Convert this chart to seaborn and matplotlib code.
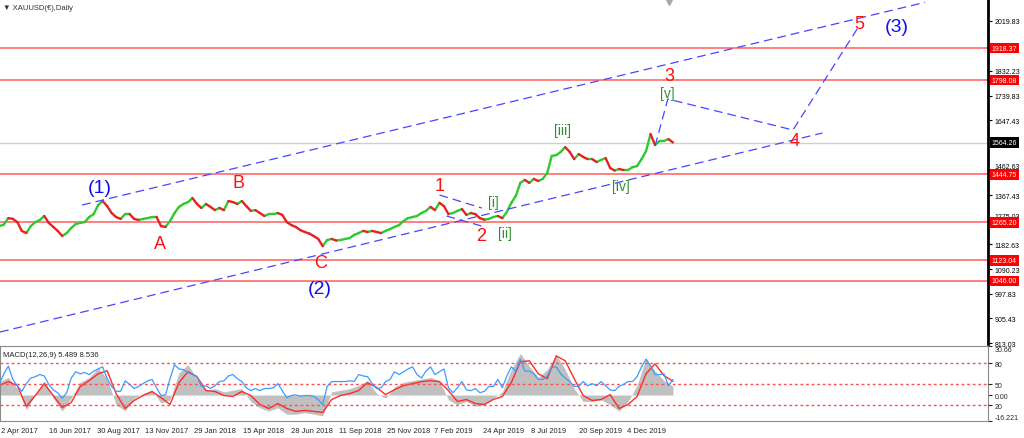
import pandas as pd
import matplotlib.pyplot as plt
import matplotlib.dates as mdates
import matplotlib.transforms as mtransforms
import seaborn as sns

# --- DATOS ---
# cierres semanales aproximados de XAUUSD(€) desde 2017-03-31
price_start = '2017-03-31'
price_close = [
    1251, 1257, 1281, 1278, 1266, 1233, 1225, 1251, 1266, 1274,
    1289, 1263, 1248, 1233, 1214, 1225, 1244, 1259, 1263, 1266,
    1285, 1296, 1330, 1345, 1326, 1300, 1285, 1278, 1296, 1296,
    1278, 1274, 1278, 1281, 1285, 1285, 1251, 1248, 1270, 1300,
    1323, 1334, 1341, 1356, 1334, 1319, 1334, 1323, 1311, 1319,
    1311, 1345, 1341, 1334, 1345, 1326, 1308, 1311, 1300, 1289,
    1296, 1296, 1300, 1293, 1266, 1255, 1248, 1236, 1229, 1223,
    1214, 1203, 1176, 1199, 1203, 1197, 1199, 1203, 1206, 1218,
    1225, 1233, 1229, 1233, 1229, 1225, 1233, 1240, 1248, 1255,
    1270, 1281, 1285, 1289, 1300, 1308, 1323, 1311, 1338, 1326,
    1296, 1300, 1308, 1315, 1293, 1300, 1296, 1281, 1275, 1278,
    1285, 1289, 1281, 1304, 1338, 1364, 1413, 1424, 1413, 1428,
    1420, 1428, 1450, 1514, 1517, 1529, 1547, 1529, 1502, 1521,
    1510, 1502, 1502, 1491, 1499, 1506, 1469, 1459, 1465, 1461,
    1461, 1472, 1476, 1502, 1532, 1596, 1555, 1570, 1570, 1577,
    1564.26]

# MACD cada dos semanas (histograma gris y senal roja)
macd_start = '2017-03-31'
macd_hist = [
    8.4, 11, 4, -9, 0, 9, -2, -10, -2, 8,
    11, 17, 10, -6, -10, -2, 1, 3, -5, -3,
    14, 19, 10, 3, 4, 2, 3, 4, -4, -8,
    -10, -8, -12, -12, -11, -12, -13, 2, 3, 4,
    6, 9, 1, -2, 5, 8, 9, 10, 11, 9,
    -3, -6, -4, -7, -6, -2, 2, 16, 26, 18,
    11, 16, 25, 16, 4, -4, -4, -3, -6, -10,
    -4, 6, 23, 15, 9, 5.489]
macd_signal = [
    5.9, 8.4, 5.9, -7.1, -0.3, 7.1, -0.3, -7.8, -4.7, 5.3,
    9.0, 13.3, 15.2, 0.9, -8.4, -3.4, -0.3, 2.2, -1.6, -5.9,
    7.8, 14.6, 11.5, 2.8, 2.2, -0.3, -0.9, 2.2, -0.3, -5.9,
    -8.4, -5.3, -8.4, -10.2, -9.6, -10.2, -10.9, -2.8, -0.3, 0.9,
    2.8, 7.8, 4.7, 0.3, 3.4, 5.9, 7.1, 8.4, 9.0, 8.4,
    2.8, -4.0, -2.8, -5.3, -5.9, -2.8, -0.9, 7.8, 20.8, 21.4,
    13.3, 10.2, 24.5, 21.4, 10.2, -0.3, -3.4, -2.8, 0.3, -8.4,
    -5.9, -0.9, 13.3, 19.5, 12.1, 8.536]

# oscilador azul (escala 0-100, niveles 80/50/20), semanal
osc_blue = [
    51, 65, 76, 57, 48, 40, 51, 59, 61, 64,
    62, 50, 42, 38, 30, 38, 59, 68, 65, 67,
    64, 69, 72, 75, 58, 47, 40, 40, 55, 50,
    44, 47, 51, 55, 57, 45, 34, 35, 58, 78,
    72, 71, 67, 64, 61, 47, 48, 44, 48, 54,
    55, 62, 64, 58, 54, 45, 41, 44, 41, 44,
    44, 45, 51, 41, 31, 34, 35, 33, 34, 34,
    33, 28, 21, 47, 54, 54, 54, 54, 55, 54,
    64, 62, 61, 51, 44, 45, 54, 57, 68, 64,
    68, 72, 75, 64, 59, 69, 75, 64, 68, 72,
    45, 38, 45, 54, 42, 41, 44, 38, 40, 47,
    47, 57, 45, 62, 75, 69, 86, 69, 69, 65,
    57, 57, 62, 74, 75, 65, 59, 54, 47, 47,
    54, 48, 51, 48, 54, 48, 42, 41, 47, 50,
    54, 54, 61, 75, 86, 76, 64, 64, 65, 48,
    57]
osc_levels = [80, 50, 20]

red_levels = [1918.37, 1798.08, 1444.75, 1265.20, 1123.04, 1046.00]
last_price = 1564.26
price_ticks = [2019.83, 1832.23, 1739.83, 1647.43, 1462.63, 1367.43,
               1275.03, 1182.63, 1090.23, 997.83, 905.43, 813.03]
date_ticks = ['2017-04-02', '2017-06-16', '2017-08-30', '2017-11-13',
              '2018-01-29', '2018-04-15', '2018-06-28', '2018-09-11',
              '2018-11-25', '2019-02-07', '2019-04-24', '2019-07-08',
              '2019-09-20', '2019-12-04']

# lineas de tendencia y proyeccion (fecha, precio)
upper_channel = [('2017-08-07', 1330.1), ('2021-03-13', 2089.6)]
lower_channel = [('2017-04-01', 854.2), ('2020-10-04', 1599.9)]
wave2_top = [('2019-02-15', 1367.6), ('2019-04-22', 1318.8)]
wave2_bottom = [('2019-02-26', 1288.9), ('2019-04-27', 1247.7)]
projection = [('2020-01-17', 1551.2), ('2020-02-06', 1727.3),
              ('2020-08-19', 1611.1), ('2020-11-29', 1997.1)]

# etiquetas de ondas (texto, fecha, precio, grado)
wave_labels = [
    ('(1)', '2017-09-04', 1397.5, 'mayor'),
    ('(2)', '2018-08-12', 1019.1, 'mayor'),
    ('(3)', '2021-01-27', 1997.1, 'mayor'),
    ('A', '2017-12-06', 1187.7, 'menor'),
    ('B', '2018-04-07', 1416.2, 'menor'),
    ('C', '2018-08-13', 1112.8, 'menor'),
    ('1', '2019-02-15', 1405.0, 'menor'),
    ('2', '2019-04-21', 1217.7, 'menor'),
    ('3', '2020-02-08', 1813.5, 'menor'),
    ('4', '2020-08-21', 1573.6, 'menor'),
    ('5', '2020-11-30', 2008.3, 'menor'),
    ('[i]', '2019-05-10', 1341.3, 'minuto'),
    ('[ii]', '2019-05-28', 1225.2, 'minuto'),
    ('[iii]', '2019-08-25', 1611.1, 'minuto'),
    ('[iv]', '2019-11-25', 1401.3, 'minuto'),
    ('[v]', '2020-02-05', 1749.8, 'minuto'),
]
estilo_grado = {'mayor': ('#1010f0', 14), 'menor': ('#ff1010', 13),
                'minuto': ('#2f8f2f', 10)}

# --- FIGURA ---
sns.set_style('white')
plt.rcParams['font.family'] = ['Liberation Sans', 'DejaVu Sans']

fig = plt.figure(figsize=(10.24, 4.39), dpi=100)
ax = fig.add_axes([0, 94 / 439, 988 / 1024, 345 / 439])
ax2 = fig.add_axes([0, 17 / 439, 988 / 1024, 75 / 439], sharex=ax)

# niveles horizontales
for lv in red_levels:
    ax.axhline(lv, color='#ff6a6a', lw=1.2, zorder=1)
ax.axhline(last_price, color='#cfcfcf', lw=1, zorder=1)

# precio: segmentos verdes (sube) y rojos (baja)
fechas = pd.date_range(price_start, periods=len(price_close), freq='7D')
filas = []
for i in range(len(price_close) - 1):
    d = 'up' if price_close[i + 1] >= price_close[i] else 'down'
    filas.append((fechas[i], price_close[i], i, d))
    filas.append((fechas[i + 1], price_close[i + 1], i, d))
seg = pd.DataFrame(filas, columns=['fecha', 'precio', 'seg', 'dir'])
sns.lineplot(data=seg, x='fecha', y='precio', units='seg', estimator=None,
             hue='dir', palette={'up': '#2fc92f', 'down': '#e52222'},
             legend=False, lw=1.7, ax=ax, zorder=3)


def linea(puntos):
    xs = pd.to_datetime([p[0] for p in puntos])
    ys = [p[1] for p in puntos]
    ax.plot(xs, ys, color='#4646ff', lw=0.9, dashes=(7, 4), zorder=4)


for pts in [upper_channel, lower_channel, wave2_top, wave2_bottom, projection]:
    linea(pts)

for txt, f, p, g in wave_labels:
    c, fs = estilo_grado[g]
    ax.text(pd.Timestamp(f), p, txt, color=c, fontsize=fs, ha='center',
            va='center', zorder=6)

ax.set_xlim(pd.Timestamp('2017-04-01'), pd.Timestamp('2021-06-19'))
ax.set_ylim(809.3, 2101.97)
ax.set_xlabel('')
ax.set_ylabel('')
for s in ['top', 'left', 'bottom']:
    ax.spines[s].set_visible(False)
ax.spines['right'].set_color('black')
ax.spines['right'].set_linewidth(2)
ax.yaxis.tick_right()
ax.set_yticks(price_ticks)
ax.set_yticklabels([f'{v:.2f}' for v in price_ticks])
ax.tick_params(axis='y', length=3, width=0.8, pad=2, labelsize=5, colors='black')
ax.tick_params(axis='x', bottom=False, labelbottom=False)
# las etiquetas que quedan junto a una caja se suben un poco
for lbl in ax.get_yticklabels():
    if lbl.get_text() in ('1462.63', '1275.03'):
        lbl.set_va('bottom')

# etiquetas de precio en cajas
trans = mtransforms.blended_transform_factory(ax.transAxes, ax.transData)
for lv in red_levels:
    ax.text(1.004, lv, f'{lv:.2f}', transform=trans, ha='left', va='center',
            color='white', fontsize=5, clip_on=False, zorder=10,
            bbox=dict(boxstyle='square,pad=0.25', fc='#ff0000', ec='none'))
ax.text(1.004, last_price, f'{last_price:.2f}', transform=trans, ha='left',
        va='center', color='white', fontsize=5, clip_on=False, zorder=10,
        bbox=dict(boxstyle='square,pad=0.25', fc='black', ec='none'))

ax.text(0.003, 0.985, '▼ XAUUSD(€),Daily', transform=ax.transAxes,
        fontsize=5.5, color='#333333', ha='left', va='top')
marca = mtransforms.blended_transform_factory(ax.transData, ax.transAxes)
ax.plot(mdates.date2num(pd.Timestamp('2020-02-07')), 0.995, marker='v', ms=6,
        color='#a8a8a8', transform=marca, clip_on=False)

# --- PANEL MACD ---
fechas_macd = pd.date_range(macd_start, periods=len(macd_hist), freq='14D')
ax2.fill_between(fechas_macd, 0, macd_hist, color='#c0c0c0', lw=0)
sns.lineplot(x=fechas_macd, y=macd_signal, color='#ff2a2a', lw=1, ax=ax2)
ax2.set_ylim(-16.23, 30.66)

ax3 = ax2.twinx()
for lv in osc_levels:
    ax3.axhline(lv, color='#ff5050', lw=1, ls=(0, (2, 2)))
sns.lineplot(x=fechas, y=osc_blue, color='#3d9bff', lw=0.9, ax=ax3)
ax3.set_ylim(-2.4, 104.8)
ax3.set_yticks(osc_levels)
ax3.set_yticklabels([str(v) for v in osc_levels])
ax3.tick_params(axis='y', length=3, width=0.8, pad=2, labelsize=5)
for s in ax3.spines.values():
    s.set_visible(False)

ax2.yaxis.tick_right()
ax2.set_yticks([30.66, 0, -16.221])
ax2.set_yticklabels(['30.66', '0.00', '-16.221'])
ax2.tick_params(axis='y', length=3, width=0.8, pad=2, labelsize=5)
for lbl in ax2.get_yticklabels():
    if lbl.get_text() == '30.66':
        lbl.set_va('top')
    elif lbl.get_text() == '-16.221':
        lbl.set_va('bottom')
for s in ax2.spines.values():
    s.set_color('#8a8a8a')
    s.set_linewidth(0.8)

tick_dates = pd.to_datetime(date_ticks)
ax2.set_xticks(tick_dates)
ax2.set_xticklabels([f'{d.day} {d:%b %Y}' for d in tick_dates], ha='left')
ax2.tick_params(axis='x', length=3, width=0.8, pad=1, labelsize=5.5)
ax2.set_xlabel('')
ax2.set_ylabel('')
ax3.set_ylabel('')
ax2.text(0.003, 0.93, 'MACD(12,26,9) 5.489 8.536', transform=ax2.transAxes,
         fontsize=5.5, color='#222222', ha='left', va='top')

fig.savefig('out.png', dpi=100)
